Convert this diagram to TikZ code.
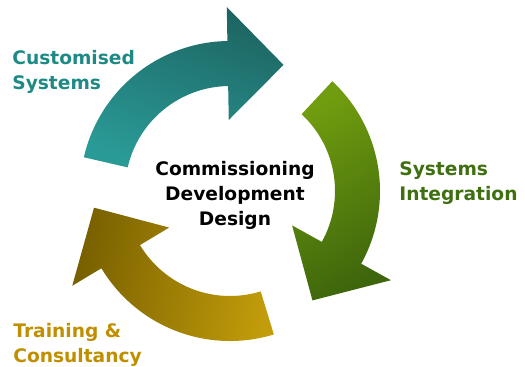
\documentclass[tikz,border=0pt]{standalone}
\usepackage{fontspec}
\setmainfont{DejaVu Sans}
\definecolor{tealdark}{RGB}{29,101,98}
\definecolor{teallight}{RGB}{42,154,150}
\definecolor{oliveleaf}{RGB}{112,157,15}
\definecolor{olivedark}{RGB}{62,102,12}
\definecolor{golddark}{RGB}{120,96,0}
\definecolor{goldlight}{RGB}{194,156,10}
\definecolor{tealtext}{RGB}{31,138,133}
\definecolor{greentext}{RGB}{63,111,16}
\definecolor{goldtext}{RGB}{192,143,0}

\begin{document}
\begin{tikzpicture}
\useasboundingbox (-4.6,-3.52) rectangle (5.9,3.82);
\tikzstyle{lbl} = [font=\bfseries\fontsize{10.6}{14.2}\selectfont, align=left, anchor=west, inner sep=0pt]

% the three curved arrows: tail angle, two shade colours, shade angle
\foreach \a/\ca/\cb/\ang in {167/tealdark/teallight/-20, 47/oliveleaf/olivedark/30, -73/goldlight/golddark/-100}{
  \pgfmathsetmacro{\b}{\a-76}
  \pgfmathsetmacro{\t}{\a-100}
  \shade[top color=\ca, bottom color=\cb, shading angle=\ang]
    (\a:3) arc[start angle=\a, end angle=\b, radius=3] -- (\b:3.68) -- (\t:2.74)
    -- (\b:1.42) -- (\b:2.1) arc[start angle=\b, end angle=\a, radius=2.1] -- cycle;
}

\node (core) [lbl, anchor=center, align=center] at (0.1,-0.08) {Commissioning\\Development\\Design};
\node (custom) [lbl, text=tealtext] at (-4.36,2.38) {Customised\\Systems};
\node (integ) [lbl, text=greentext] at (3.38,0.16) {Systems\\Integration};
\node (train) [lbl, text=goldtext] at (-4.34,-3.08) {Training \&\\Consultancy};

\end{tikzpicture}
\end{document}
